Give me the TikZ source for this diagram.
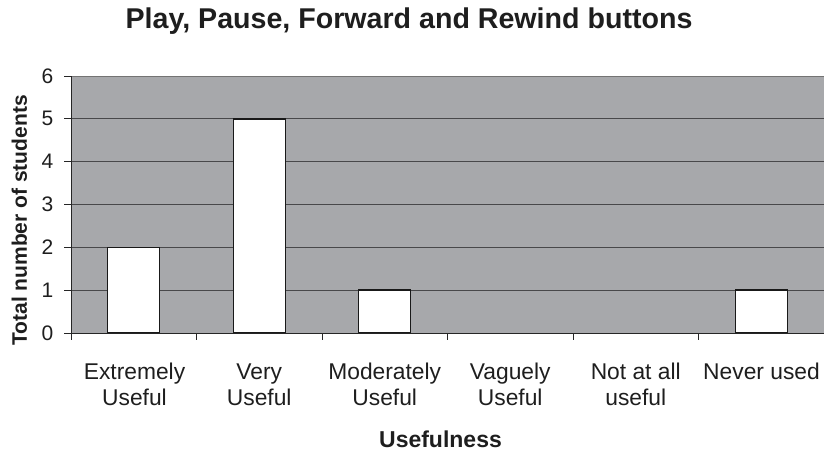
\documentclass[tikz,border=0pt]{standalone}
\usepackage{fontspec}
\setmainfont{Liberation Sans}
\definecolor{plotgray}{HTML}{A7A8AB}
\definecolor{gridgray}{HTML}{48484A}
\definecolor{textdark}{HTML}{1E1E1E}
\begin{document}
\begin{tikzpicture}[x=1pt,y=1pt,
  catlabel/.style={anchor=base,inner sep=0pt,font=\fontsize{22.8}{26}\selectfont,text=textdark},
  ylab/.style={anchor=east,inner sep=0pt,font=\fontsize{21}{24}\selectfont,text=textdark},
  bar/.style={draw=black!90,fill=white,line width=1.4pt},
  grid/.style={draw=gridgray,line width=1pt},
  axisline/.style={draw=black!85,line width=1pt}]
\useasboundingbox (0,0) rectangle (824,451);
% plot area
\fill[plotgray] (71,118) rectangle (824,375);
\draw[draw=black!55,line width=1pt] (71,375) -- (824,375);
\foreach \k in {1,...,5}{
  \draw[grid] (71,118+42.83*\k) -- (824,118+42.83*\k);
}
% bars
\foreach \i/\v in {0/2,1/5,2/1,5/1}{
  \pgfmathsetmacro{\cx}{133.75+125.5*\i}
  \draw[bar] (\cx-26,118) rectangle (\cx+26,118+42.83*\v);
}
% axes
\draw[axisline] (71,118) -- (71,375);
\draw[axisline] (71,118) -- (824,118);
\foreach \k in {0,...,6}{
  \draw[axisline] (64,118+42.83*\k) -- (71,118+42.83*\k);
  \node[ylab] (y\k) at (53.5,118+42.83*\k) {\k};
}
\foreach \i in {0,...,6}{
  \draw[axisline] (71+125.5*\i,118) -- (71+125.5*\i,111);
}
% category labels
\node[catlabel] (c1a) at (134.5,72) {Extremely};
\node[catlabel] (c1b) at (134.5,46) {Useful};
\node[catlabel] (c2a) at (259.25,72) {Very};
\node[catlabel] (c2b) at (259.25,46) {Useful};
\node[catlabel] (c3a) at (384.75,72) {Moderately};
\node[catlabel] (c3b) at (384.75,46) {Useful};
\node[catlabel] (c4a) at (510.25,72) {Vaguely};
\node[catlabel] (c4b) at (510.25,46) {Useful};
\node[catlabel] (c5a) at (635.75,72) {Not at all};
\node[catlabel] (c5b) at (635.75,46) {useful};
\node[catlabel] (c6a) at (761.5,72) {Never used};
% titles
\node[anchor=base,inner sep=0pt,font=\fontsize{28.6}{32}\selectfont\bfseries,text=textdark] (title) at (409,422) {Play, Pause, Forward and Rewind buttons};
\node[anchor=base,inner sep=0pt,font=\fontsize{23}{26}\selectfont\bfseries,text=textdark] (xlab) at (440.5,4) {Usefulness};
\node[anchor=base,rotate=90,inner sep=0pt,font=\fontsize{21}{25}\selectfont\bfseries,text=textdark] (ytitle) at (27,230.5) {Total number of students};
\end{tikzpicture}
\end{document}
